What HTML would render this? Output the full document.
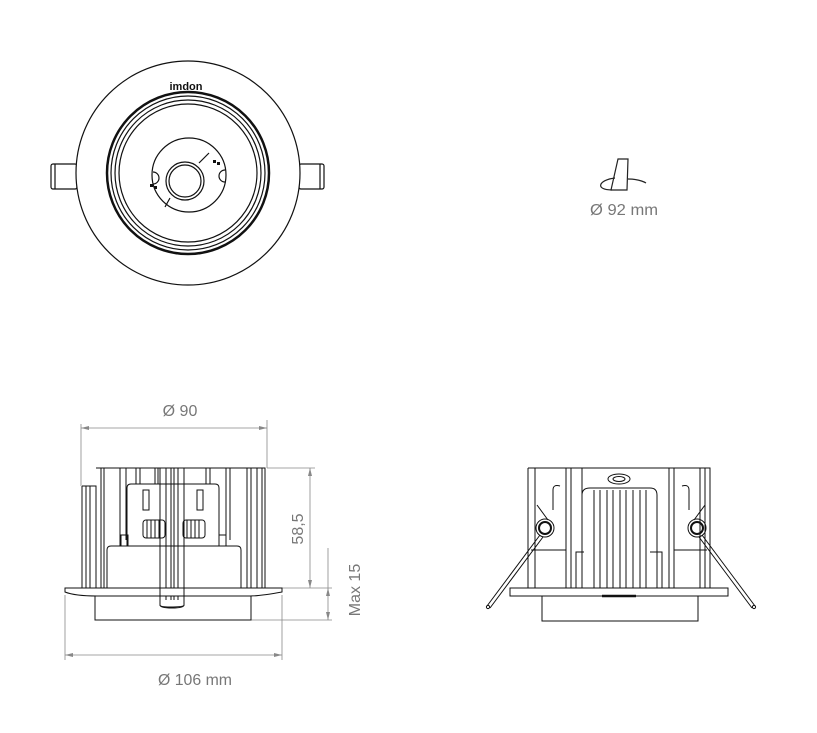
<!DOCTYPE html>
<html><head><meta charset="utf-8"><style>
html,body{margin:0;padding:0;background:#fff;}
svg{display:block}
text{font-family:"Liberation Sans",sans-serif;fill:#777;}
</style></head><body>
<svg width="817" height="733" viewBox="0 0 817 733" xmlns="http://www.w3.org/2000/svg">
<rect width="817" height="733" fill="#fff"/>
<!-- TOP VIEW -->
<g fill="none" stroke="#111" stroke-width="1.2">
<rect x="51" y="164" width="26" height="25" rx="2"/>
<line x1="55" y1="164" x2="55" y2="189"/>
<rect x="299" y="164" width="25" height="25" rx="2"/>
<line x1="320" y1="164" x2="320" y2="189"/>
<circle cx="188" cy="173" r="112" fill="#fff"/>
<circle cx="188" cy="173" r="81" stroke-width="2.5"/>
<circle cx="188" cy="173" r="77"/>
<circle cx="188" cy="173" r="73"/>
<circle cx="188" cy="173" r="69"/>
<circle cx="189" cy="175" r="37"/>
<circle cx="185" cy="181" r="19"/>
<circle cx="185" cy="181" r="16"/>
<path d="M153 172 a6 6 0 0 1 0 12 M225 170 a6 6 0 0 0 0 12"/>
<line x1="199" y1="163" x2="209" y2="153"/>
<line x1="170" y1="198" x2="165" y2="207"/>
</g>
<g fill="#111"><rect x="150" y="184" width="3" height="3"/><rect x="154" y="186" width="3" height="3"/><rect x="213" y="160" width="3" height="3"/><rect x="217" y="162" width="3" height="3"/></g>
<text x="186" y="90" text-anchor="middle" font-size="11" font-weight="bold" style="fill:#111">imdon</text>
<!-- cut symbol -->
<g fill="none" stroke="#222" stroke-width="1.2">
<path d="M618 159 L628 159 L627 190 L611 190 Z"/>
<path d="M615 178 C598 180 595 190 612 190 M628 179 C640 179 646 183 646 183"/>
</g>
<text x="624" y="215" text-anchor="middle" font-size="16" textLength="68" lengthAdjust="spacingAndGlyphs">Ø 92 mm</text>
<!-- LEFT SIDE VIEW -->
<g fill="none" stroke="#888" stroke-width="0.8">
<line x1="81" y1="428" x2="267" y2="428"/>
<line x1="81" y1="424" x2="81" y2="486"/>
<line x1="267" y1="420" x2="267" y2="468"/>
<line x1="267" y1="468" x2="315" y2="468"/>
<line x1="310" y1="468" x2="310" y2="588"/>
<line x1="282" y1="588" x2="332" y2="588"/>
<line x1="328" y1="548" x2="328" y2="620"/>
<line x1="251" y1="620" x2="332" y2="620"/>
<line x1="65" y1="595" x2="65" y2="660"/>
<line x1="282" y1="595" x2="282" y2="660"/>
<line x1="65" y1="655" x2="282" y2="655"/>
</g>
<g fill="#888"><path d="M81 428 l8 -2 v4z M267 428 l-8 -2 v4z M310 468 l-2 8 h4z M310 588 l-2 -8 h4z M328 588 l-2 8 h4z M328 620 l-2 -8 h4z M65 655 l8 -2 v4z M282 655 l-8 -2 v4z"/></g>
<text x="180" y="416" text-anchor="middle" font-size="16">Ø  90</text>
<text x="195" y="685" text-anchor="middle" font-size="16" textLength="74" lengthAdjust="spacingAndGlyphs">Ø 106 mm</text>
<text transform="translate(303,529) rotate(-90)" text-anchor="middle" font-size="16">58,5</text>
<text transform="translate(360,590) rotate(-90)" text-anchor="middle" font-size="16">Max  15</text>
<g fill="none" stroke="#111" stroke-width="1">
<path d="M96 468 H265 V588 M82 486 H96 V588 M82 486 V588"/>
<path d="M86 486 V588 M90 486 V588 M101 468 V588 M104 468 V588 M247 468 V588 M251 468 V588 M257 468 V588 M262 468 V588"/>
<path d="M107 588 V550 Q107 546 111 546 H237 Q241 546 241 550 V588"/>
<path d="M127 546 V488 Q127 484 131 484 H215 Q219 484 219 488 V546"/>
<path d="M120 468 V546 M126 468 V540 M136 468 V484 M140 468 V484 M155 468 V484 M158 468 V484 M206 468 V484 M210 468 V484 M226 468 V546 M230 468 V540"/>
<rect x="121" y="535" width="7" height="11"/><rect x="219" y="535" width="7" height="11"/>
<rect x="143" y="490" width="6" height="20"/><rect x="197" y="490" width="6" height="20"/>
<rect x="143" y="520" width="22" height="18" rx="3"/><rect x="183" y="520" width="22" height="18" rx="3"/>
<path d="M147 520 V538 M151 520 V538 M155 520 V538 M159 520 V538 M187 520 V538 M191 520 V538 M195 520 V538 M199 520 V538"/>
<path d="M160 468 V605 Q160 607 170 607 Q184 607 184 605 V468 M166 468 V600 M178 468 V600 M171 468 V600 M174 468 V600"/>
<path d="M65 588 H282 V592 Q260 596 250 596 H97 Q75 596 65 592 Z" fill="#fff"/>
<path d="M95 596 V620 H251 V596"/>
<path d="M160 588 V605 Q160 608 172 608 Q184 608 184 605 V588"/>
</g>
<!-- RIGHT SIDE VIEW -->
<g fill="none" stroke="#111" stroke-width="1">
<path d="M528 468 H710 V588 M528 468 V588"/>
<path d="M535 468 V588 M566 468 V588 M571 468 V588 M582 468 V588 M669 468 V588 M674 468 V588 M700 468 V588 M705 468 V588"/>
<path d="M531 550 H566 M674 550 H707"/>
<path d="M582 588 V495 Q582 488 590 488 H650 Q657 488 657 495 V588"/>
<path d="M594 490 V588 M600 490 V588 M607 490 V588 M613 490 V588 M620 490 V588 M626 490 V588 M633 490 V588 M640 490 V588 M646 490 V588"/>
<path d="M576 588 V552 H584 M650 552 H662 V588"/>
<ellipse cx="619" cy="479" rx="11" ry="5"/><ellipse cx="619" cy="479" rx="6" ry="2.5"/>
<path d="M553 510 V490 Q553 484 560 486 M689 510 V490 Q689 484 682 486"/>
<circle cx="545" cy="528" r="9"/><circle cx="545" cy="528" r="6" stroke-width="2"/>
<circle cx="697" cy="528" r="9"/><circle cx="697" cy="528" r="6" stroke-width="2"/>
<path d="M540 535 L487 606 M543 537 L490 608 M537 505 L548 520 M702 535 L755 606 M699 537 L752 608 M705 505 L694 520"/>
<circle cx="488" cy="607" r="1.6"/><circle cx="754" cy="607" r="1.6"/>
<rect x="510" y="588" width="218" height="8" fill="#fff"/>
<path d="M542 596 V621 H698 V596"/>
<line x1="602" y1="596" x2="636" y2="596" stroke-width="2.5"/>
</g>
</svg>
</body></html>
